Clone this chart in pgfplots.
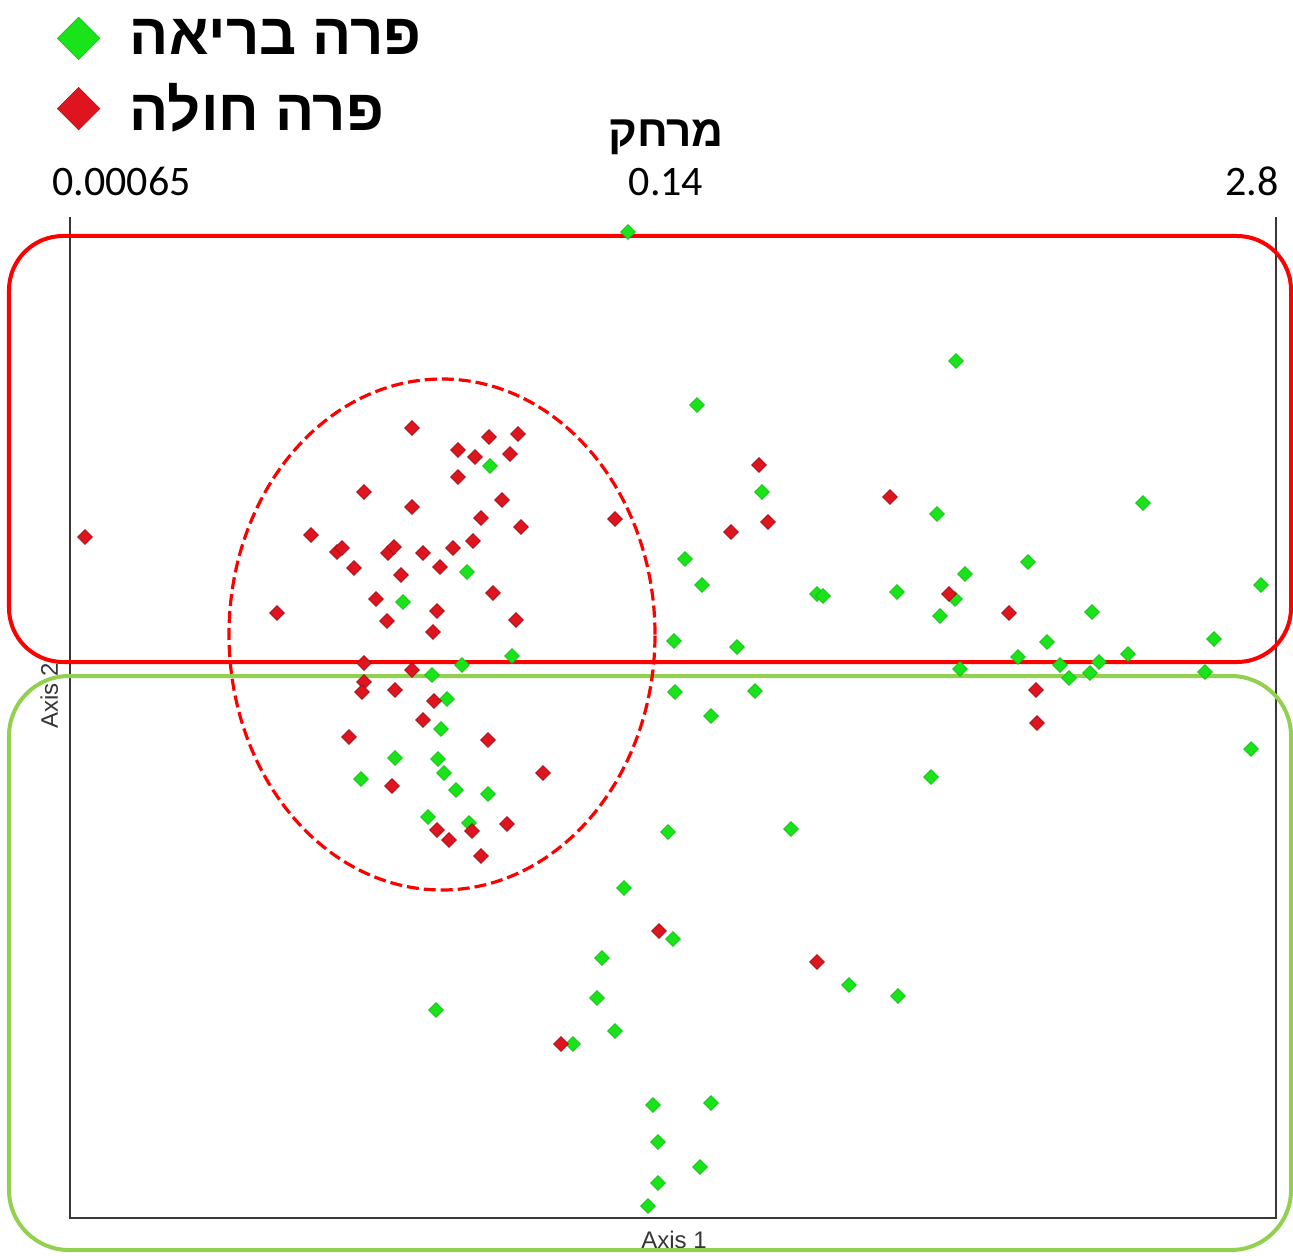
\documentclass[border=0pt]{standalone}
\usepackage{pgfplots}
\pgfplotsset{compat=1.18}
\usepackage{fontspec}
\setmainfont{Carlito}
\newfontfamily\heb[Script=Hebrew]{Liberation Sans}
\newfontfamily\arial{Liberation Sans}
\TeXXeTstate=1
\definecolor{ptgreen}{RGB}{25,228,25}
\definecolor{ptgreenedge}{RGB}{20,190,20}
\definecolor{ptred}{RGB}{222,20,30}
\definecolor{ptrededge}{RGB}{160,15,25}
\definecolor{boxgreen}{RGB}{146,208,80}
\definecolor{axisgray}{RGB}{55,55,55}
\begin{document}
\begin{tikzpicture}
\begin{axis}[
  at={(35pt,18.5pt)}, anchor=south west,
  scale only axis, width=603pt, height=500.5pt,
  xmin=70, xmax=1276, ymin=37, ymax=1038,
  axis lines=none, ticks=none, clip=false,
  legend style={at={(axis cs:57,1240)}, anchor=north west, draw=none, fill=none,
    inner sep=0pt, font=\heb\bfseries\fontsize{29}{33}\selectfont, row sep=9pt,
    /tikz/every odd column/.append style={column sep=13pt}},
  legend cell align=left,
  legend image post style={mark size=7.5pt},
]
\addplot[only marks, mark=square*, mark size=2.6pt, mark options={rotate=45, fill=ptgreen, draw=ptgreenedge, line width=0.3pt}] coordinates {
(628,1023) (956,894) (697,850) (490,789) (762,763) (937,741) (1143,752)
(685,696) (702,670) (467,683) (403,653) (817,661) (823,659) (897,663)
(965,681) (1028,693) (955,656) (940,639) (1092,643) (1261,670) (674,614)
(737,608) (1047,613) (1214,616) (512,599) (462,590) (960,586) (1018,598)
(1060,590) (1069,577) (1090,582) (1099,593) (1128,601) (1205,583) (432,580)
(447,556) (675,563) (755,564) (711,539) (441,526) (395,497) (438,496)
(444,482) (361,476) (456,465) (488,461) (931,478) (1251,506) (428,438)
(469,432) (668,423) (791,426) (624,367) (673,316) (602,297) (849,270)
(898,259) (597,257) (615,224) (573,211) (436,245) (653,150) (711,152)
(658,113) (700,88) (658,72) (648,49)
};
\addlegendentry{\beginR פרה בריאה\endR}
\addplot[only marks, mark=square*, mark size=2.6pt, mark options={rotate=45, fill=ptred, draw=ptrededge, line width=0.3pt}] coordinates {
(85,718) (412,827) (489,818) (518,821) (458,805) (475,798) (510,801)
(458,778) (364,763) (412,748) (502,755) (481,737) (521,728) (311,720)
(337,703) (342,707) (388,702) (394,708) (423,702) (453,707) (473,714)
(354,687) (440,688) (401,680) (493,662) (376,656) (277,642) (437,644)
(387,634) (516,635) (433,623) (364,592) (412,585) (364,573) (362,563)
(395,565) (434,554) (423,535) (349,518) (488,515) (392,469) (543,482)
(437,425) (449,415) (472,424) (507,431) (481,399) (615,736) (759,790)
(768,733) (731,723) (890,758) (949,661) (1009,642) (1036,565) (1037,532)
(659,324) (817,293) (561,211)
};
\addlegendentry{\beginR פרה חולה\endR}
% axis frame
\draw[line width=1.4pt, axisgray] (axis cs:70,1038) -- (axis cs:70,37) -- (axis cs:1276,37) -- (axis cs:1276,1038);
% title and top tick labels
\node[font=\heb\bfseries\fontsize{22}{26}\selectfont, anchor=base] at (axis cs:666,1108) {\beginR מרחק\endR};
\node[font=\fontsize{21}{25}\selectfont, anchor=base] at (axis cs:121.5,1059) {0.00065};
\node[font=\fontsize{21}{25}\selectfont, anchor=base] at (axis cs:666,1059) {0.14};
\node[font=\fontsize{21}{25}\selectfont, anchor=base] at (axis cs:1252,1059) {2.8};
% axis titles
\node[font=\arial\fontsize{12}{14}\selectfont, text=axisgray, anchor=base] at (axis cs:674,7) {Axis 1};
\node[font=\arial\fontsize{12}{14}\selectfont, text=axisgray, anchor=base, rotate=90] at (axis cs:58,559) {Axis 2};
% annotations
\draw[red, line width=2pt, rounded corners=27pt] (axis cs:9,1019) rectangle (axis cs:1291,593);
\draw[boxgreen, line width=2pt, rounded corners=30pt] (axis cs:9,579) rectangle (axis cs:1291,5);
\draw[red, line width=1.6pt, dash pattern=on 6pt off 2.5pt] (axis cs:442,620.5) ellipse [x radius=213, y radius=255.5];
\end{axis}
\pgfresetboundingbox
\path[use as bounding box] (0pt,0pt) rectangle (646.5pt,627.5pt);
\end{tikzpicture}
\end{document}
